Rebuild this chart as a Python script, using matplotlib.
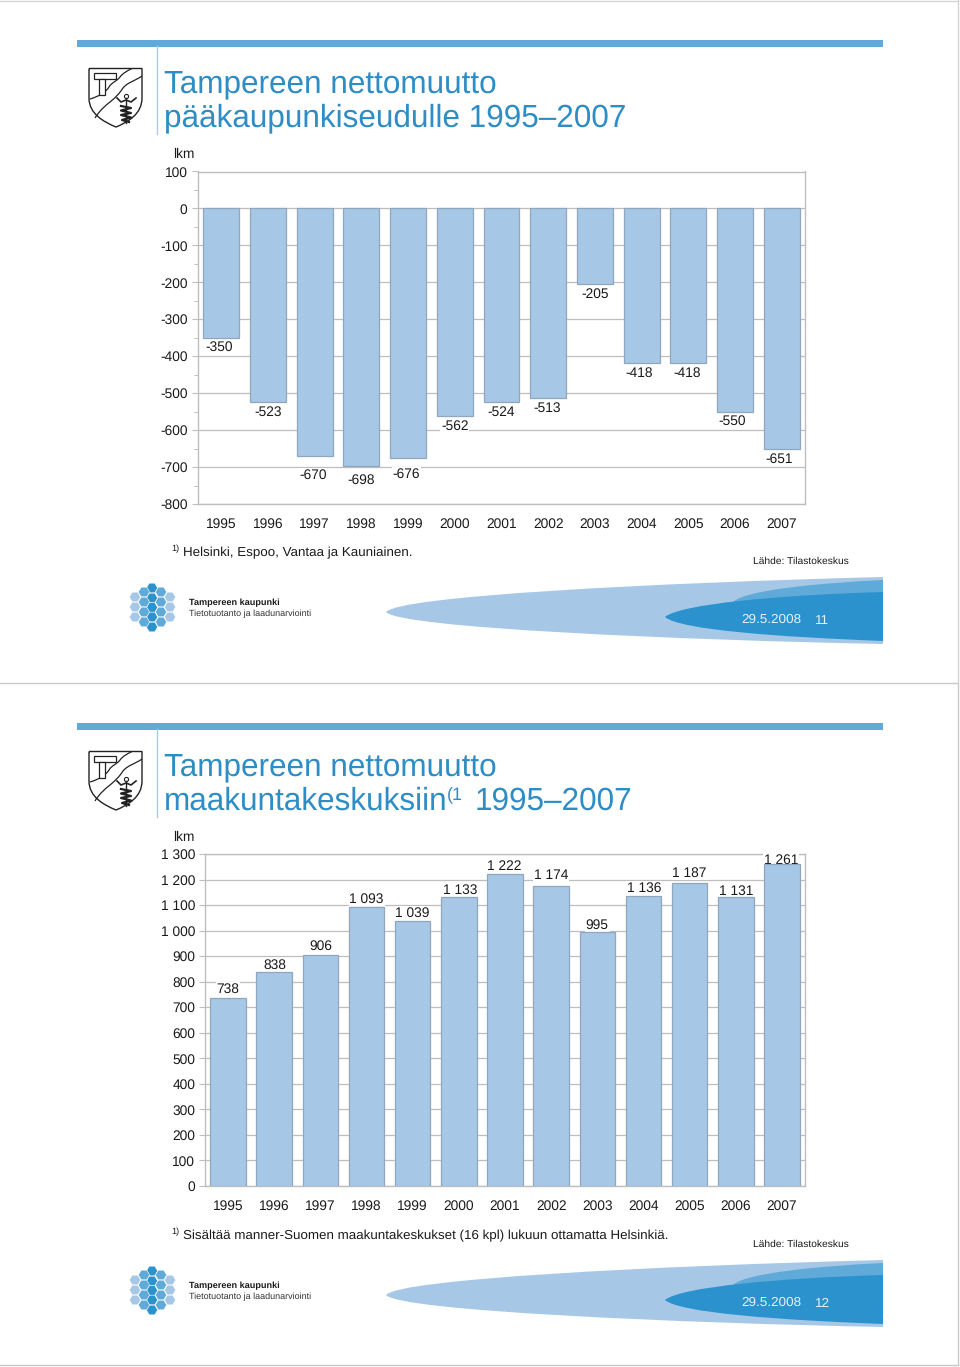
import matplotlib
matplotlib.use("Agg")
import matplotlib.pyplot as plt
from matplotlib.patches import PathPatch, RegularPolygon, Rectangle
from matplotlib.path import Path
import numpy as np

plt.rcParams["font.family"] = ["Liberation Sans", "DejaVu Sans"]
plt.rcParams["text.hinting"] = "none"

years = ["1995", "1996", "1997", "1998", "1999", "2000", "2001",
         "2002", "2003", "2004", "2005", "2006", "2007"]

# net migration to the capital region
capital_values = [-350, -523, -670, -698, -676, -562, -524, -513, -205, -418, -418, -550, -651]
capital_ticks = [100, 0, -100, -200, -300, -400, -500, -600, -700, -800]
capital_minor = [50, -50, -150, -250, -350, -450, -550, -650, -750]

# net migration to the regional centres
centre_values = [738, 838, 906, 1093, 1039, 1133, 1222, 1174, 995, 1136, 1187, 1131, 1261]
centre_ticks = [0, 100, 200, 300, 400, 500, 600, 700, 800, 900, 1000, 1100, 1200, 1300]

# label offsets from the bar end, in pixels (hand placed in the original)
capital_dx = [-2, 0, -2, 0, -2, 0, 0, -1, 0, -2, -1, -3, -3]
capital_dy = [8, 10, 18, 13, 15, 9, 9, 9, 9, 9, 9, 9, 9]
centre_dx = [0, 1, 0, 0, 0, 1, -1, 0, 0, 1, 0, 0, -1]
centre_dy = [9, 8, 9, 9, 8, 7, 9, 12, 8, 9, 11, 7, 5]

W, H = 960, 1367
BLUE = "#2B92CE"
TITLE = "#2E8DC4"
MID = "#5FAAD8"
LIGHT = "#A6C8E6"
GRID = "#BEBEBE"
EDGE = "#8FA6BE"
DARKTEXT = "#1A1A1A"
INK = "#222222"
TITLE_SIZE = 22.7
LABEL_SIZE = 9.9

fig = plt.figure(figsize=(W / 100, H / 100), dpi=100, facecolor="white")
bg = fig.add_axes([0, 0, 1, 1], zorder=0)
bg.set_xlim(0, W)
bg.set_ylim(H, 0)
bg.axis("off")


def fmt(v):
    # thousands are split with a space
    s = str(abs(v))
    if len(s) > 3:
        s = s[:-3] + " " + s[-3:]
    return ("-" if v < 0 else "") + s


def curve(verts, codes, **kw):
    bg.add_patch(PathPatch(Path(verts, codes), **kw))


def draw_logo(off):
    # coat of arms
    M, L, C = Path.MOVETO, Path.LINETO, Path.CURVE4
    curve([(89, 68.5 + off), (142, 68.5 + off), (142, 98 + off),
           (142, 114 + off), (128, 122 + off), (116, 127 + off),
           (104, 122 + off), (89, 114 + off), (89, 98 + off), (89, 68.5 + off)],
          [M, L, L, C, C, C, C, C, C, L], fc="white", ec=INK, lw=1.0, zorder=2)
    # river banks
    curve([(90, 99 + off), (100, 96 + off), (106, 92 + off), (109, 87 + off),
           (112, 82 + off), (116, 82 + off), (120, 77 + off),
           (123, 73 + off), (127, 71 + off), (132, 68.5 + off)],
          [M, C, C, C, C, C, C, C, C, C], fc="none", ec=INK, lw=0.9, zorder=3)
    curve([(95, 118 + off), (100, 110 + off), (105, 106 + off), (110, 102 + off),
           (116, 97 + off), (119, 94 + off), (123, 88 + off),
           (128, 82 + off), (135, 81 + off), (142, 76 + off)],
          [M, C, C, C, C, C, C, C, C, C], fc="none", ec=INK, lw=0.9, zorder=3)
    # hammer
    bg.add_patch(Rectangle((94, 73 + off), 22, 6, fc="white", ec=INK, lw=0.9, zorder=4))
    bg.add_patch(Rectangle((98.5, 79 + off), 6.5, 16, fc="white", ec=INK, lw=0.9, zorder=4))
    # staff and snake
    bg.plot([126, 126], [98 + off, 123 + off], color=INK, lw=1.0, zorder=4)
    bg.plot([117, 121, 126, 131, 136], [98 + off, 102 + off, 100 + off, 102 + off, 98 + off],
            color=INK, lw=1.2, zorder=4)
    bg.plot([121, 131, 121, 131, 121, 131, 122, 129],
            [106 + off, 108 + off, 110.5 + off, 113 + off, 115 + off, 117.5 + off, 120 + off, 122 + off],
            color=INK, lw=1.6, zorder=4)
    bg.plot([126], [95.5 + off], marker="o", ms=3, mfc="none", mec=INK, mew=0.8, zorder=4)


def draw_hexes(off):
    cols = [(152, [588, 598, 607.5, 617, 627], BLUE),
            (144, [592, 602, 612, 622], MID),
            (161, [592, 602, 612, 622], MID),
            (135, [597, 607, 617], LIGHT),
            (170, [597, 607, 617], LIGHT)]
    for x, ys, col in cols:
        for y in ys:
            bg.add_patch(RegularPolygon((x, y + off), 6, radius=5.6, orientation=np.pi / 6,
                                        fc=col, ec="white", lw=0.4, zorder=2))


def draw_swoosh(off):
    M, L, C = Path.MOVETO, Path.LINETO, Path.CURVE4
    curve([(386, 612 + off), (400, 596 + off), (650, 583 + off), (883, 577 + off), (883, 644 + off),
           (680, 640 + off), (400, 628 + off), (386, 612 + off)],
          [M, C, C, C, L, C, C, C], fc=LIGHT, ec="none", zorder=2)
    curve([(733, 602 + off), (745, 590 + off), (820, 583 + off), (883, 580 + off), (883, 600 + off), (733, 602 + off)],
          [M, C, C, C, L, L], fc=MID, ec="none", zorder=3)
    curve([(665, 617 + off), (680, 604 + off), (780, 595 + off), (883, 592 + off), (883, 641 + off),
           (780, 637 + off), (680, 630 + off), (665, 617 + off)],
          [M, C, C, C, L, C, C, C], fc=BLUE, ec="none", zorder=4)


def draw_page(off, line1, page_no, note, note_y):
    bg.add_patch(Rectangle((77, 40 + off), 806, 6.5, fc=MID, ec="none"))
    bg.plot([157, 157], [46 + off, 134 + off], color="#A9CBE3", lw=1.0)
    draw_logo(off)
    bg.text(164, 84 + off, "Tampereen nettomuutto", fontsize=TITLE_SIZE, color=TITLE, va="center", ha="left")
    if line1 is not None:
        bg.text(164, 118 + off, line1, fontsize=TITLE_SIZE, color=TITLE, va="center", ha="left")
    bg.text(171, note_y - 4, "1)", fontsize=6.6, color=DARKTEXT, va="center", ha="left")
    bg.text(183, note_y, note, fontsize=9.65, color=DARKTEXT, va="center", ha="left")
    bg.text(753, 561.5 + off, "Lähde: Tilastokeskus", fontsize=7.35, color=DARKTEXT, va="center", ha="left")
    draw_hexes(off)
    bg.text(189, 602.5 + off, "Tampereen kaupunki", fontsize=6.6, fontweight="bold", color=DARKTEXT, va="center", ha="left")
    bg.text(189, 613.5 + off, "Tietotuotanto ja laadunarviointi", fontsize=6.5, color="#333333", va="center", ha="left")
    draw_swoosh(off)
    bg.text(741, 620 + off, "29.5.2008", fontsize=9.7, color="#E4F1FA", va="center", ha="left", zorder=5)
    bg.text(815, 620.5 + off, page_no, fontsize=9.7, color="#E4F1FA", va="center", ha="left", zorder=5)


def bar_axes(left, right, top, bottom, ymin, ymax, ticks, values, dx, dy, pad, year_pad):
    ax = fig.add_axes([left / W, 1 - bottom / H, (right - left) / W, (bottom - top) / H], zorder=1)
    ax.set_facecolor("none")
    ax.set_axisbelow(True)
    xs = list(range(len(values)))
    ax.bar(xs, values, width=0.77, color=LIGHT, edgecolor=EDGE, linewidth=0.9, zorder=3)
    ax.set_xlim(-0.5, len(values) - 0.5)
    ax.set_ylim(ymin, ymax)
    ax.set_yticks(ticks)
    ax.set_yticklabels([fmt(t) for t in ticks], fontsize=LABEL_SIZE, color=DARKTEXT)
    ax.grid(axis="y", color=GRID, lw=0.9)
    ax.tick_params(axis="y", length=4, width=0.8, color=GRID, pad=pad)
    ax.tick_params(axis="x", length=0)
    ax.set_xticks(xs)
    ax.set_xticklabels([])
    for s in ax.spines.values():
        s.set_color(GRID)
        s.set_linewidth(1.0)
    # year labels sit in the same band whichever way the bars point
    for x, yr in zip(xs, years):
        ax.annotate(yr, (x, 0), xycoords=("data", "axes fraction"), xytext=(0, -year_pad),
                    textcoords="offset pixels", ha="center", va="center", fontsize=LABEL_SIZE, color=DARKTEXT)
    # the labels blank out gridlines and frame, but stay under the bars
    for x, v, ox, oy in zip(xs, values, dx, dy):
        sign = -1 if v < 0 else 1
        ax.annotate(fmt(v), (x, v), xytext=(ox, sign * oy - 1), textcoords="offset pixels",
                    ha="center", va="center", fontsize=LABEL_SIZE, color=DARKTEXT, zorder=2.7,
                    bbox=dict(fc="white", ec="none", pad=0.6), annotation_clip=False)
    return ax


# page edges
bg.plot([0, 958, 958], [683, 683, 1365], color="#C8C8C8", lw=1.0)
bg.plot([0, 958], [1365, 1365], color="#C8C8C8", lw=1.0)
bg.plot([958, 958], [0, 683], color="#D4D4D4", lw=1.0)
bg.plot([0, 958], [0.5, 0.5], color="#D4D4D4", lw=1.0)

# first page
draw_page(0, "pääkaupunkiseudulle 1995–2007", "11", "Helsinki, Espoo, Vantaa ja Kauniainen.", 553)
bg.text(173, 154, "lkm", fontsize=LABEL_SIZE, color=DARKTEXT, va="center", ha="left")
ax1 = bar_axes(198, 805, 171.5, 504, -800, 100, capital_ticks, capital_values, capital_dx, capital_dy, 3.5, 20)
ax1.set_yticks(capital_minor, minor=True)
ax1.tick_params(axis="y", which="minor", length=3, width=0.7, color=GRID)

# second page
draw_page(683, None, "12", "Sisältää manner-Suomen maakuntakeskukset (16 kpl) lukuun ottamatta Helsinkiä.", 1236)
bg.text(164, 801, "maakuntakeskuksiin", fontsize=TITLE_SIZE, color=TITLE, va="center", ha="left")
bg.text(447, 795, "(1", fontsize=13, color=TITLE, va="center", ha="left")
bg.text(475, 801, "1995–2007", fontsize=TITLE_SIZE, color=TITLE, va="center", ha="left")
bg.text(173, 837, "lkm", fontsize=LABEL_SIZE, color=DARKTEXT, va="center", ha="left")
ax2 = bar_axes(205, 805, 854, 1186, 0, 1300, centre_ticks, centre_values, centre_dx, centre_dy, 3, 20)

fig.savefig("out.png", dpi=100, facecolor="white")
